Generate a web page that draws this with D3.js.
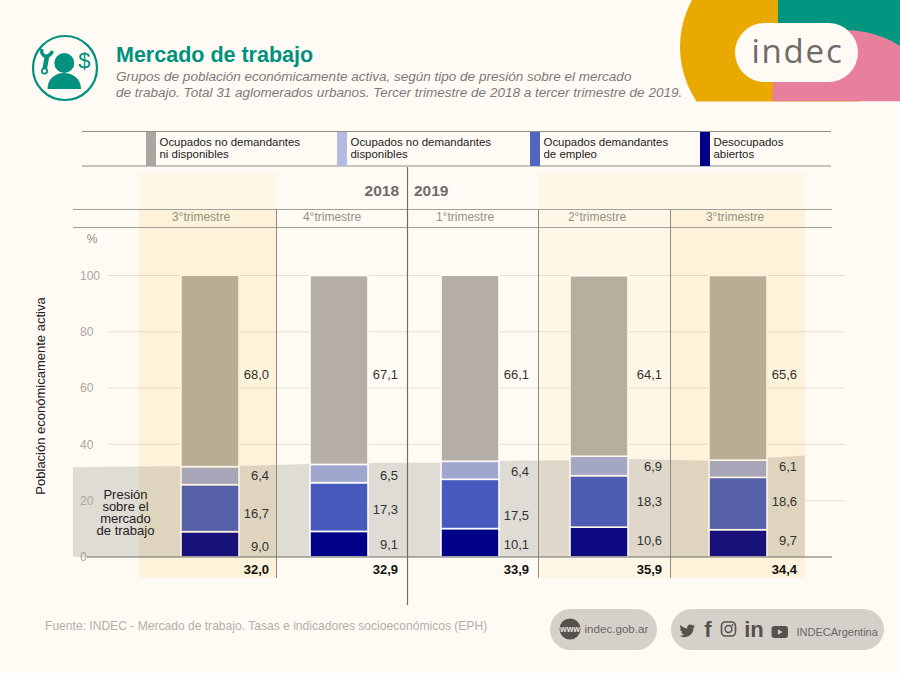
<!DOCTYPE html>
<html>
<head>
<meta charset="utf-8">
<script src="https://cdn.jsdelivr.net/npm/d3@7"></script>
<style>
  html, body { margin: 0; padding: 0; background: #fffbf4; }
  svg { display: block; font-family: "Liberation Sans", sans-serif; }
</style>
</head>
<body>
<svg id="chart" width="900" height="673"></svg>
<script>
// data
const quarterLabels = ["3°trimestre", "4°trimestre", "1°trimestre", "2°trimestre", "3°trimestre"];
const desocupados = [9.0, 9.1, 10.1, 10.6, 9.7];
const demandantes = [16.7, 17.3, 17.5, 18.3, 18.6];
const disponibles = [6.4, 6.5, 6.4, 6.9, 6.1];
const noDisponibles = [68.0, 67.1, 66.1, 64.1, 65.6];
const presion = ["32,0", "32,9", "33,9", "35,9", "34,4"];
const yTicks = [0, 20, 40, 60, 80, 100];

// where the value labels sit, in % units (they are hand placed in the original)
const labelDes = [3.9, 4.3, 4.3, 6, 6];
const labelDem = [15.6, 17.05, 14.9, 19.9, 19.9];
const labelDisp = [28.8, 28.8, 30.4, 32.3, 32.3];
const labelNo = [65, 65, 65, 65, 65];

// grey "presion" band outline: position in quarters, height in %
const bandQ = [-0.837, 0.45, 1, 1.447, 2, 2.45, 3, 3.42, 4, 4.417, 4.69];
const bandTop = [32.0, 32.4, 33.0, 33.5, 33.5, 34.2, 34.4, 34.8, 34.2, 35.3, 36.1];

const seriesKeys = ["des", "dem", "disp", "no"];
const seriesColor = d3.scaleOrdinal().domain(seriesKeys).range(["#000088", "#4659bd", "#a0a7cf", "#b5aea7"]);
const legendNames = [
  ["Ocupados no demandantes", "ni disponibles"],
  ["Ocupados no demandantes", "disponibles"],
  ["Ocupados demandantes", "de empleo"],
  ["Desocupados", "abiertos"]
];
const legendColors = ["#aba6a2", "#b4bbe0", "#4f65c0", "#000088"];

let svg = d3.select("#chart");
const teal = "#00917f";
const barWidth = 58;

let yScale = d3.scaleLinear().domain([0, 100]).range([557, 275.5]);
let xScale = d3.scaleLinear().domain([0, 1, 2, 3, 4]).range([181, 310, 441, 570, 709]);

let rows = quarterLabels.map((q, i) => ({
  i: i, des: desocupados[i], dem: demandantes[i], disp: disponibles[i], no: noDisponibles[i]
}));
let stacked = d3.stack().keys(seriesKeys)(rows);

// logo corner
let defs = svg.append("defs");
defs.append("clipPath").attr("id", "logoClip").append("rect")
  .attr("x", 660).attr("y", 0).attr("width", 240).attr("height", 101.5);
defs.append("clipPath").attr("id", "pinkClip").append("path")
  .attr("d", "M772 101.5L778 0H900V101.5Z");
let logo = svg.append("g").attr("clip-path", "url(#logoClip)");
logo.append("circle").attr("cx", 778).attr("cy", 47).attr("r", 98).style("fill", "#e9a900");
logo.append("rect").attr("x", 778).attr("y", 0).attr("width", 122).attr("height", 70).style("fill", "#00967f");
logo.append("circle").attr("cx", 845).attr("cy", 133).attr("r", 103)
  .attr("clip-path", "url(#pinkClip)").style("fill", "#e87f9c");
logo.append("rect").attr("x", 735).attr("y", 23).attr("width", 123).attr("height", 59).attr("rx", 29.5)
  .style("fill", "#fffbf4");
svg.append("text").attr("x", 797.5).attr("y", 63).attr("text-anchor", "middle")
  .style("font-family", "'Open Sans', sans-serif").style("font-size", "33px")
  .style("letter-spacing", "1.8px").style("fill", "#6d6a68")
  .text("indec");

// header icon
let icon = svg.append("g").attr("transform", "translate(65,68)");
icon.append("circle").attr("r", 32).style("fill", "none").style("stroke", teal).style("stroke-width", 2.2);
icon.append("circle").attr("cx", -0.7).attr("cy", -5).attr("r", 10).style("fill", teal);
icon.append("path").attr("d", "M-17.5 21C-17.5 11 -10 5 -1 5C8 5 16 11 16 21Z").style("fill", teal);
// wrench
icon.append("path").attr("d", "M-23 -19C-25 -11 -16 -9 -12.5 -17")
  .style("fill", "none").style("stroke", teal).style("stroke-width", 3.4);
icon.append("path").attr("d", "M-18 -12L-20.5 2")
  .style("fill", "none").style("stroke", teal).style("stroke-width", 4.6);
icon.append("circle").attr("cx", -20.5).attr("cy", 3).attr("r", 2.6)
  .style("fill", "#fffbf4").style("stroke", teal).style("stroke-width", 1.8);
icon.append("text").attr("x", 19.3).attr("y", 0).attr("text-anchor", "middle")
  .style("font-size", "22px").style("fill", teal).text("$");

// title
svg.append("text").attr("x", 116).attr("y", 62)
  .style("font-size", "21.5px").style("font-weight", "bold").style("fill", teal)
  .text("Mercado de trabajo");
svg.selectAll(".subtitle")
  .data(["Grupos de población económicamente activa, según tipo de presión sobre el mercado",
         "de trabajo. Total 31 aglomerados urbanos. Tercer trimestre de 2018 a tercer trimestre de 2019."])
  .enter()
  .append("text")
    .attr("x", 116)
    .attr("y", (d, i) => 80.5 + i * 16)
    .style("font-size", "13.52px").style("font-style", "italic").style("fill", "#7c7a77")
    .text(d => d);

// legend
svg.selectAll(".legendLine").data([131.5, 166]).enter().append("line")
  .attr("x1", 82).attr("x2", 831).attr("y1", d => d).attr("y2", d => d)
  .style("stroke", "#8f8d89").style("stroke-width", 1);
const legendX = [146, 337, 530, 700];
legendNames.forEach((lines, i) => {
  svg.append("rect").attr("x", legendX[i]).attr("y", 132).attr("width", 10).attr("height", 34)
    .style("fill", legendColors[i]);
  lines.forEach((t, j) => {
    svg.append("text").attr("x", legendX[i] + 13.5).attr("y", 146 + j * 12)
      .style("font-size", "11.45px").style("fill", "#222").text(t);
  });
});

// gridlines
svg.selectAll(".grid").data(yTicks.filter(d => d > 0)).enter().append("line")
  .attr("x1", 108).attr("x2", 845).attr("y1", d => yScale(d)).attr("y2", d => yScale(d))
  .style("stroke", "#e4e0d9").style("stroke-width", 1);

// grey pressure band
svg.append("path")
  .datum(bandQ)
  .attr("d", d3.area().x(d => xScale(d)).y0(yScale(0)).y1((d, i) => yScale(bandTop[i])))
  .style("fill", "#dfdbd5");

// tick labels sit on top of the band
let axis = svg.append("g").attr("transform", "translate(80,0)")
  .call(d3.axisLeft(yScale).tickValues(yTicks).tickSize(0).tickFormat(d => d));
axis.select(".domain").remove();
axis.selectAll("text").attr("x", 0).attr("text-anchor", "start")
  .style("font-family", "'Liberation Sans', sans-serif")
  .style("font-size", "12px").style("fill", "#a9a6a1");

// bars
svg.selectAll(".series")
  .data(stacked)
  .enter()
  .append("g")
    .style("fill", d => seriesColor(d.key))
  .selectAll("rect")
  .data(d => d)
  .enter()
  .append("rect")
    .attr("x", d => xScale(d.data.i))
    .attr("y", d => yScale(d[1]))
    .attr("width", barWidth)
    .attr("height", d => yScale(d[0]) - yScale(d[1]))
    .style("stroke", "#fffdf9")
    .style("stroke-width", 1.6);

// yellow highlights lie over the bars, they tint them
const lightBands = [[139, 277], [538, 805]];
const strongBands = [[139, 277], [670, 805]];
svg.selectAll(".lightBand").data(lightBands).enter().append("rect")
  .attr("x", d => d[0]).attr("width", d => d[1] - d[0]).attr("y", 173).attr("height", 405)
  .style("fill", "#eeaa00").style("opacity", 0.05);
svg.selectAll(".strongBand").data(strongBands).enter().append("rect")
  .attr("x", d => d[0]).attr("width", d => d[1] - d[0]).attr("y", 209).attr("height", 369)
  .style("fill", "#eeaa00").style("opacity", 0.055);

// header rules and separators
svg.selectAll(".headRule").data([209.5, 227.5]).enter().append("line")
  .attr("x1", 73).attr("x2", 832).attr("y1", d => d).attr("y2", d => d)
  .style("stroke", "#a3a09a").style("stroke-width", 1);
svg.selectAll(".sep").data([276.5, 538.5, 670.5]).enter().append("line")
  .attr("x1", d => d).attr("x2", d => d).attr("y1", 209).attr("y2", 578)
  .style("stroke", "#8f8c80").style("stroke-width", 1);
svg.append("line").attr("x1", 407.5).attr("x2", 407.5).attr("y1", 167).attr("y2", 605)
  .style("stroke", "#6f6d69").style("stroke-width", 1.2);
svg.append("line").attr("x1", 87).attr("x2", 832).attr("y1", yScale(0)).attr("y2", yScale(0))
  .style("stroke", "#6f6d69").style("stroke-width", 1.2);

svg.append("text").attr("x", 399).attr("y", 196).attr("text-anchor", "end")
  .style("font-size", "15.5px").style("font-weight", "bold").style("fill", "#6f6b66").text("2018");
svg.append("text").attr("x", 414).attr("y", 196)
  .style("font-size", "15.5px").style("font-weight", "bold").style("fill", "#6f6b66").text("2019");

const quarterX = [201, 332, 465, 597, 735];
svg.selectAll(".quarter").data(quarterLabels).enter().append("text")
  .attr("x", (d, i) => quarterX[i]).attr("y", 221).attr("text-anchor", "middle")
  .style("font-size", "12px").style("fill", "#94907f").text(d => d);

svg.append("text").attr("x", 92).attr("y", 243).attr("text-anchor", "middle")
  .style("font-size", "12px").style("fill", "#8f8d89").text("%");
svg.append("text").attr("transform", "translate(45,396) rotate(-90)").attr("text-anchor", "middle")
  .style("font-size", "13px").style("fill", "#222").text("Población económicamente activa");

let presionText = svg.append("text").attr("text-anchor", "middle")
  .style("font-size", "13px").style("fill", "#222");
presionText.selectAll("tspan").data(["Presión", "sobre el", "mercado", "de trabajo"]).enter().append("tspan")
  .attr("x", 125.5).attr("y", (d, i) => 499 + i * 12).text(d => d);

// value labels
const labelRight = [269, 398, 529, 662, 797];
const fmt = v => v.toFixed(1).replace(".", ",");
[[desocupados, labelDes], [demandantes, labelDem], [disponibles, labelDisp], [noDisponibles, labelNo]].forEach(pair => {
  svg.selectAll(".val").data(pair[0], (d, i) => i).enter().append("text")
    .attr("x", (d, i) => labelRight[i])
    .attr("y", (d, i) => yScale(pair[1][i]))
    .attr("dy", "0.35em")
    .attr("text-anchor", "end")
    .style("font-size", "13px").style("fill", "#333")
    .text(d => fmt(d));
});
svg.selectAll(".total").data(presion).enter().append("text")
  .attr("x", (d, i) => labelRight[i]).attr("y", 573.5).attr("text-anchor", "end")
  .style("font-size", "13px").style("font-weight", "bold").style("fill", "#111")
  .text(d => d);

// footer
svg.append("text").attr("x", 45).attr("y", 629.5)
  .style("font-size", "12.08px").style("fill", "#b3afa8")
  .text("Fuente: INDEC - Mercado de trabajo. Tasas e indicadores socioeconómicos (EPH)");

const pillColor = "#d6d0cb", footDark = "#55514d";
svg.append("rect").attr("x", 550).attr("y", 609).attr("width", 107).attr("height", 41).attr("rx", 20.5).style("fill", pillColor);
svg.append("rect").attr("x", 671).attr("y", 609).attr("width", 213).attr("height", 41).attr("rx", 20.5).style("fill", pillColor);
svg.append("circle").attr("cx", 570).attr("cy", 629).attr("r", 10.5).style("fill", footDark);
svg.append("text").attr("x", 570).attr("y", 632).attr("text-anchor", "middle")
  .style("font-size", "8.5px").style("font-weight", "bold").style("fill", "#e8e4df").text("www");
svg.append("text").attr("x", 584.5).attr("y", 633)
  .style("font-size", "11.6px").style("fill", "#6a6662").text("indec.gob.ar");

svg.append("path").attr("transform", "translate(679.5,623) scale(0.65)")
  .attr("d", "M23.953 4.57a10 10 0 01-2.825.775 4.958 4.958 0 002.163-2.723c-.951.555-2.005.959-3.127 1.184a4.92 4.92 0 00-8.384 4.482C7.69 8.095 4.067 6.13 1.64 3.162a4.822 4.822 0 00-.666 2.475c0 1.71.87 3.213 2.188 4.096a4.904 4.904 0 01-2.228-.616v.06a4.923 4.923 0 003.946 4.827 4.996 4.996 0 01-2.212.085 4.936 4.936 0 004.604 3.417 9.867 9.867 0 01-6.102 2.105c-.39 0-.779-.023-1.17-.067a13.995 13.995 0 007.557 2.209c9.053 0 13.998-7.496 13.998-13.985 0-.21 0-.42-.015-.63A9.935 9.935 0 0024 4.59z")
  .style("fill", footDark);
svg.append("text").attr("x", 708).attr("y", 637).attr("text-anchor", "middle")
  .style("font-size", "22px").style("font-weight", "bold").style("fill", footDark).text("f");
svg.append("rect").attr("x", 721.5).attr("y", 622).attr("width", 14).attr("height", 14).attr("rx", 4)
  .style("fill", "none").style("stroke", footDark).style("stroke-width", 1.6);
svg.append("circle").attr("cx", 728.5).attr("cy", 629).attr("r", 3.4)
  .style("fill", "none").style("stroke", footDark).style("stroke-width", 1.5);
svg.append("circle").attr("cx", 732.5).attr("cy", 625).attr("r", 1).style("fill", footDark);
svg.append("text").attr("x", 754).attr("y", 637).attr("text-anchor", "middle")
  .style("font-size", "22px").style("font-weight", "bold").style("fill", footDark).text("in");
svg.append("rect").attr("x", 771.5).attr("y", 626).attr("width", 16.5).attr("height", 12).attr("rx", 3).style("fill", footDark);
svg.append("path").attr("d", "M778 629.3L782.5 632L778 634.7Z").style("fill", pillColor);
svg.append("text").attr("x", 796.5).attr("y", 636)
  .style("font-size", "11px").style("fill", "#6a6662").text("INDECArgentina");
</script>
</body>
</html>
